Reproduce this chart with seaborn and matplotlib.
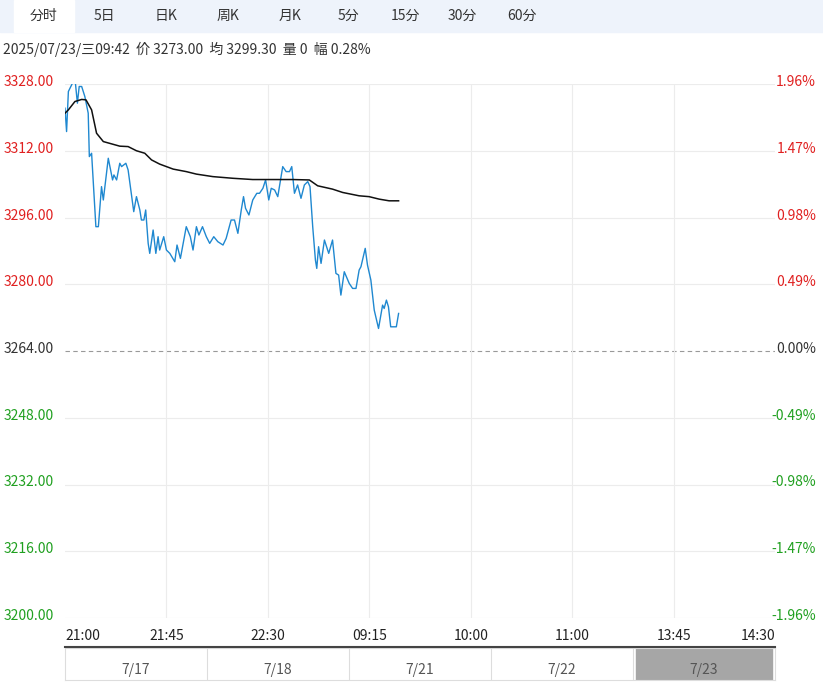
import matplotlib
matplotlib.use("Agg")
import matplotlib.pyplot as plt
from matplotlib import font_manager
import seaborn as sns
import pandas as pd
from matplotlib.patches import Rectangle

cjk = [f.name for f in font_manager.fontManager.ttflist if "Sans CJK" in f.name]
pref = [n for n in cjk if n.endswith("SC")] or cjk
plt.rcParams["font.family"] = "sans-serif"
plt.rcParams["font.sans-serif"] = ([pref[0]] if pref else []) + ["DejaVu Sans"]

# ---- data ----
price_t = [0,0.7,1.5,4.4,5.5,6.3,7.4,8.8,10.3,10.8,11.8,13.7,14.8,16.2,17,19.2,21.1,21.7,22.9,24.3,25.1,27,28,29.5,30.5,31.7,33.2,33.9,35,35.8,36.9,37.6,39.1,40.3,41.3,42,43.8,45,46.5,48.7,49.7,51.2,53.8,55.6,56.8,58.3,59.4,61,62.7,64.2,66,67.8,70.1,71.5,73.7,75.2,76.7,78.2,79.2,80.1,81.6,83.3,85.1,86.3,87.8,89,90.4,91.5,93,94.4,96.6,98.1,99.6,100.6,101.8,103.2,104.7,106.2,107.7,108.7,109.9,111.1,111.7,112.5,113.6,115.1,117,118.7,120.2,121.4,122.4,123.9,126.1,127.6,129.1,130.5,131.3,133.2,134.2,135.7,137.2,139.1,140.9,141.6,142.6,143.5,144.5,147,148]
price_v = [3322.2,3316.6,3326.2,3329.4,3323.4,3327.4,3327.4,3325.0,3321.0,3310.6,3311.4,3293.8,3293.8,3303.4,3300.2,3310.2,3305.0,3306.2,3305.0,3309.0,3308.2,3309.0,3307.4,3301.4,3297.4,3301.0,3297.8,3295.4,3295.4,3297.8,3289.8,3287.4,3293.0,3287.4,3291.4,3288.2,3291.4,3288.2,3287.4,3285.4,3289.4,3286.2,3293.8,3291.4,3288.2,3293.8,3291.8,3293.8,3291.4,3289.8,3291.4,3290.2,3289.4,3291.0,3295.4,3295.4,3292.2,3297.8,3301.0,3298.2,3296.6,3300.2,3301.8,3301.8,3303.0,3305.0,3300.2,3303.0,3302.6,3301.0,3308.2,3307.0,3307.0,3308.2,3301.8,3303.8,3300.6,3303.8,3304.6,3303.4,3293.8,3285.8,3283.8,3289.0,3285.0,3290.6,3287.4,3290.6,3282.6,3282.2,3277.4,3283.0,3280.2,3279.0,3279.0,3283.4,3284.2,3288.6,3284.6,3281.0,3273.8,3269.4,3275.0,3274.2,3276.2,3274.6,3269.8,3269.8,3273.0]
avg_t = [0,1.5,4.4,7.4,9.3,11.8,14,17,24.3,28,31.7,35.4,38.4,42,48,53.8,58.3,65.6,74.5,83.3,101,108.4,112.1,118.7,123.2,130.5,134.9,139.4,143.8,148]
avg_v = [3321.0,3321.8,3323.8,3324.3,3324.2,3321.8,3316.2,3314.2,3313.1,3313.0,3312.0,3311.4,3309.8,3308.8,3307.6,3307.0,3306.4,3305.8,3305.4,3305.1,3305.1,3305.0,3303.6,3302.8,3302.0,3301.2,3301.0,3300.4,3300.0,3300.0]
prev_close = 3264.0
y_ticks = [3328,3312,3296,3280,3264,3248,3232,3216,3200]
pct_labels = ["1.96%","1.47%","0.98%","0.49%","0.00%","-0.49%","-0.98%","-1.47%","-1.96%"]
x_labels = ["21:00","21:45","22:30","09:15","10:00","11:00","13:45","14:30"]
tabs = ["分时","5日","日K","周K","月K","5分","15分","30分","60分"]
nav_days = ["7/17","7/18","7/21","7/22","7/23"]

W, H = 823, 684
fig = plt.figure(figsize=(W/100, H/100), dpi=100)
fx = lambda x: x / W
fy = lambda y: 1 - y / H

# top tab bar
fig.patches.append(Rectangle((0, fy(32)), 1, 32/H, transform=fig.transFigure, color="#eef3fb", zorder=0))
fig.patches.append(Rectangle((fx(14), fy(32)), 60/W, 32/H, transform=fig.transFigure, color="white", zorder=1))
tab_x = [44, 104, 166, 228, 290, 348, 405, 462, 522]
for t, x in zip(tabs, tab_x):
    fig.text(fx(x), fy(16), t, ha="center", va="center", fontsize=10, color="#333")
fig.text(fx(3), fy(49), "2025/07/23/三09:42  价 3273.00  均 3299.30  量 0  幅 0.28%",
         ha="left", va="center", fontsize=10, color="#333")

# main axes
L, R, T, B = 65, 775, 84, 618
ax = fig.add_axes([fx(L), fy(B), (R-L)/W, (B-T)/H])
df_p = pd.DataFrame({"t": price_t, "v": price_v})
df_a = pd.DataFrame({"t": avg_t, "v": avg_v})
sns.lineplot(data=df_p, x="t", y="v", ax=ax, color="#1f88d0", linewidth=1.0)
sns.lineplot(data=df_a, x="t", y="v", ax=ax, color="#111111", linewidth=1.1)
ax.set_xlim(0, 315)
ax.set_ylim(3200, 3328)
for v in y_ticks:
    if v == prev_close:
        ax.axhline(v, color="#999", linestyle=(0, (4, 3)), linewidth=0.8, zorder=0)
    else:
        ax.axhline(v, color="#ececec", linewidth=0.8, zorder=0)
for i in range(1, 7):
    ax.axvline(45*i, color="#ececec", linewidth=0.8, zorder=0)
ax.set_xticks([]); ax.set_yticks([])
ax.set_xlabel(""); ax.set_ylabel("")
for s in ax.spines.values():
    s.set_visible(False)

for i, (v, p) in enumerate(zip(y_ticks, pct_labels)):
    c = "#e02020" if v > prev_close else ("#333333" if v == prev_close else "#20a020")
    y = T + (3328 - v) / 128 * (B - T) - 2
    fig.text(fx(4), fy(y), f"{v:.2f}", ha="left", va="center", fontsize=10, color=c)
    fig.text(fx(816), fy(y), p, ha="right", va="center", fontsize=10, color=c)

for i, lab in enumerate(x_labels):
    x = L + i * (R - L) / 7
    ha = "left" if i == 0 else ("right" if i == 7 else "center")
    fig.text(fx(x), fy(636), lab, ha=ha, va="center", fontsize=10, color="#222")

# navigator
fig.lines.append(plt.Line2D([fx(L), fx(R)], [fy(647), fy(647)], transform=fig.transFigure, color="#444", lw=1.5))
nav = fig.add_axes([fx(L), fy(680), (R-L)/W, 32/H])
nav.set_xlim(0, 5); nav.set_ylim(0, 1)
nav.set_xticks([]); nav.set_yticks([])
for s in nav.spines.values():
    s.set_color("#dddddd")
for i in range(1, 5):
    nav.axvline(i, color="#dddddd", lw=0.8)
nav.add_patch(Rectangle((4.02, 0), 0.96, 1, color="#a6a6a6"))
for i, d in enumerate(nav_days):
    nav.text(i + 0.5, 0.32, d, ha="center", va="center", fontsize=10, color="#555")
fig.savefig("out.png", dpi=100)
